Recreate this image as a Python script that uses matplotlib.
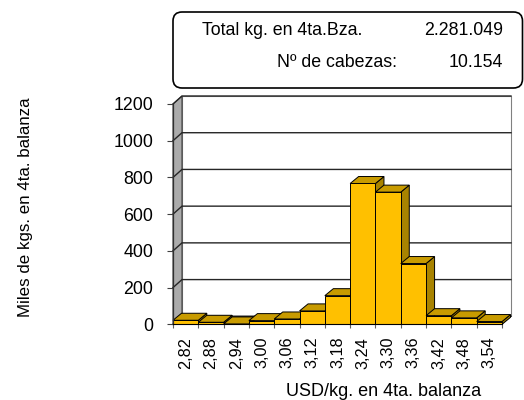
import matplotlib
matplotlib.use("Agg")
import matplotlib.pyplot as plt
from matplotlib.patches import Polygon, FancyBboxPatch

plt.rcParams['font.family'] = ['Liberation Sans', 'DejaVu Sans']

# data
prices = ["2,82", "2,88", "2,94", "3,00", "3,06", "3,12", "3,18",
          "3,24", "3,30", "3,36", "3,42", "3,48", "3,54"]
kgs = [22, 11, 2, 20, 29, 73, 156, 767, 720, 331, 47, 35, 15]
y_ticks = [0, 200, 400, 600, 800, 1000, 1200]
total_label = "Total kg. en 4ta.Bza."
total_value = "2.281.049"
heads_label = "Nº de cabezas:"
heads_value = "10.154"

FRONT = "#FFC000"
TOP = "#C89B00"
SIDE = "#A88300"
WALL = "#ABABAB"

W, H = 524, 400
# front plane of the plot area, in pixels
AX_L, AX_TOP, AX_W, AX_H = 173.0, 104.0, 329.0, 220.3

fig = plt.figure(figsize=(W / 100, H / 100), dpi=100)
ax = fig.add_axes([AX_L / W, 1 - (AX_TOP + AX_H) / H, AX_W / W, AX_H / H])
n = len(kgs)
ymax = y_ticks[-1]
ax.set_xlim(0, n)
ax.set_ylim(0, ymax)
ax.patch.set_visible(False)

# depth offsets (pixels -> data units)
px_x = AX_W / n
px_y = AX_H / ymax
wdx, wdy = 9 / px_x, 8 / px_y
bdx, bdy = 8.5 / px_x, 7 / px_y

# walls and floor
ax.add_patch(Polygon([(wdx, wdy), (n + wdx, wdy), (n + wdx, ymax + wdy), (wdx, ymax + wdy)],
                     fc="white", ec="#808080", lw=0.8, clip_on=False, zorder=0.5))
ax.add_patch(Polygon([(0, 0), (n, 0), (n + wdx, wdy), (wdx, wdy)],
                     fc="white", ec="#808080", lw=0.8, clip_on=False, zorder=0.6))
ax.add_patch(Polygon([(0, 0), (wdx, wdy), (wdx, ymax + wdy), (0, ymax)],
                     fc=WALL, ec="#404040", lw=0.8, clip_on=False, zorder=0.7))

# gridlines on left and back walls
for v in y_ticks:
    ax.plot([0, wdx, n + wdx], [v, v + wdy, v + wdy], color="#262626", lw=1.0,
            clip_on=False, zorder=1)

# 3D bars, left to right so each one hides the side of the previous
for i, v in enumerate(kgs):
    z = 3 + i * 0.01
    ax.add_patch(Polygon([(i + 1, 0), (i + 1 + bdx, bdy), (i + 1 + bdx, v + bdy), (i + 1, v)],
                         fc=SIDE, ec="black", lw=0.7, clip_on=False, zorder=z))
    ax.add_patch(Polygon([(i, v), (i + 1, v), (i + 1 + bdx, v + bdy), (i + bdx, v + bdy)],
                         fc=TOP, ec="black", lw=0.7, clip_on=False, zorder=z))
    ax.add_patch(Polygon([(i, 0), (i + 1, 0), (i + 1, v), (i, v)],
                         fc=FRONT, ec="black", lw=0.7, clip_on=False, zorder=z))

for s in ["top", "right"]:
    ax.spines[s].set_visible(False)
ax.spines["left"].set_color("#303030")
ax.spines["left"].set_linewidth(0.9)
ax.spines["left"].set_zorder(5)
ax.spines["bottom"].set_color("black")
ax.spines["bottom"].set_linewidth(0.8)
ax.spines["bottom"].set_zorder(5)

ax.set_yticks(y_ticks)
ax.set_yticklabels([str(t) for t in y_ticks])
ax.tick_params(axis="y", length=4.3, width=0.8, color="#404040", pad=10, labelsize=12.8)

ax.set_xticks([i + 0.5 for i in range(n)])
ax.set_xticklabels(prices, rotation=90)
ax.set_xticks(range(n + 1), minor=True)
ax.tick_params(axis="x", which="major", length=0, pad=9, labelsize=11.7)
ax.tick_params(axis="x", which="minor", length=3, width=0.8, color="#606060")

fig.text(25.5 / W, 1 - 207.5 / H, "Miles de kgs. en 4ta. balanza", rotation=90,
         ha="center", va="center", fontsize=12.2)
fig.text(383.5 / W, 1 - 396.5 / H, "USD/kg. en 4ta. balanza",
         ha="center", va="baseline", fontsize=13)

# summary box
box = FancyBboxPatch((1.73, (H - 88) / 100), (522.5 - 173) / 100, 0.76,
                     boxstyle="round,pad=0,rounding_size=0.09",
                     transform=fig.dpi_scale_trans, fc="white", ec="black", lw=1.2)
fig.add_artist(box)
fig.text(201.7 / W, 1 - 35 / H, total_label, ha="left", va="baseline", fontsize=12.8)
fig.text(503 / W, 1 - 35 / H, total_value, ha="right", va="baseline", fontsize=12.8)
fig.text(397 / W, 1 - 66.7 / H, heads_label, ha="right", va="baseline", fontsize=12.8)
fig.text(503 / W, 1 - 66.7 / H, heads_value, ha="right", va="baseline", fontsize=12.8)

fig.savefig("out.png", dpi=100)
